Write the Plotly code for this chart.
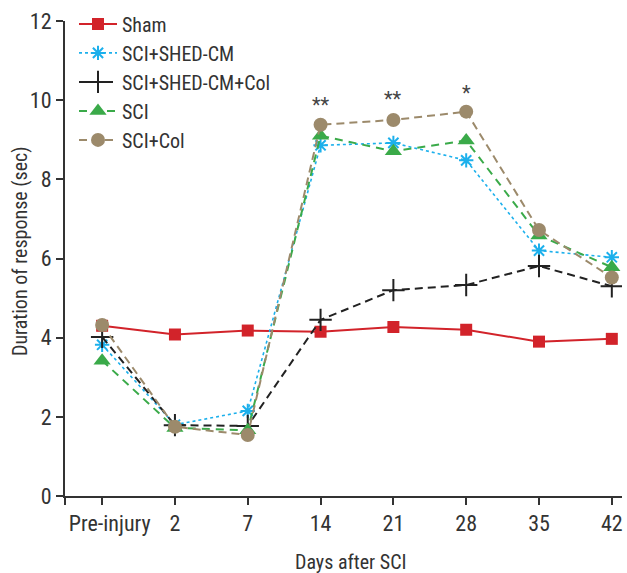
import plotly.graph_objects as go

days = ["Pre-injury", "2", "7", "14", "21", "28", "35", "42"]
sham = [4.30, 4.08, 4.18, 4.15, 4.27, 4.20, 3.90, 3.97]
sci_shed = [3.82, 1.80, 2.15, 8.86, 8.92, 8.48, 6.20, 6.03]
sci_shed_col = [4.02, 1.79, 1.77, 4.45, 5.20, 5.33, 5.81, 5.30]
sci = [3.42, 1.72, 1.66, 9.10, 8.71, 8.98, 6.58, 5.78]
sci_col = [4.32, 1.75, 1.54, 9.38, 9.50, 9.71, 6.72, 5.52]
sig_days = ["14", "21", "28"]
sig_marks = ["**", "**", "*"]
sig_y = [9.97, 10.14, 10.27]
y_ticks = [0, 2, 4, 6, 8, 10, 12]
x_title = "Days after SCI"
y_title = "Duration of response (sec)"

FONT = "Roboto Condensed, Roboto, sans-serif"
W, H = 627, 573
ML, MR, MT, MB = 65, 5, 21, 77
xi = list(range(len(days)))
x_start = -0.51
x_end = 7.14
tick_text = [""] + ["\u00a0\u00a0\u00a0" + days[0]] + days[1:]

fig = go.Figure()

series = [
    ("Sham", sham, "#d2232a", "solid", "square", 12, 2),
    ("SCI+SHED-CM", sci_shed, "#1cb0ec", "dot", "asterisk-open", 12, 1.6),
    ("SCI+SHED-CM+Col", sci_shed_col, "#222222", "8px,5px", "cross-thin-open", 16, 2),
    ("SCI", sci, "#3aaa49", "8px,6px", "triangle-up", 15, 2),
    ("SCI+Col", sci_col, "#9c8a6b", "8px,5px", "circle", 14, 2),
]
for name, vals, col, dash, sym, size, lw in series:
    if sym.endswith("open"):
        marker = dict(symbol=sym, size=size, color=col, line=dict(color=col, width=2))
    else:
        marker = dict(symbol=sym, size=size, color=col, line=dict(width=0))
    fig.add_trace(go.Scatter(
        x=xi, y=vals, name=name, mode="lines+markers",
        line=dict(color=col, width=lw, dash=dash),
        marker=marker,
    ))

for d, m, yv in zip(sig_days, sig_marks, sig_y):
    fig.add_annotation(x=days.index(d), y=yv, text=m, showarrow=False, yshift=-4,
                       font=dict(family=FONT, size=20, color="#444444"))

pw = W - ML - MR
ph = H - MT - MB
# axis titles as annotations for exact placement
fig.add_annotation(xref="paper", yref="paper", x=(350 - ML) / pw, y=-(562 - (H - MB)) / ph,
                   text=x_title, showarrow=False, xanchor="center", yanchor="middle",
                   font=dict(family=FONT, size=20, color="#333333"))
fig.add_annotation(xref="paper", yref="paper", x=-(ML - 20) / pw, y=(H - MB - 251) / ph,
                   text=y_title, textangle=-90, showarrow=False, xanchor="center", yanchor="middle",
                   font=dict(family=FONT, size=20, color="#333333"))

fig.update_layout(
    width=W, height=H,
    margin=dict(l=ML, r=MR, t=MT, b=MB, autoexpand=False),
    paper_bgcolor="white", plot_bgcolor="white",
    font=dict(family=FONT, size=22, color="#333333"),
    showlegend=True,
    legend=dict(x=(74 - ML) / pw, y=1 + (MT + 22.6 - 27) / ph,
                xanchor="left", yanchor="top",
                bgcolor="rgba(0,0,0,0)", font=dict(size=20, color="#333333"),
                tracegroupgap=0, itemwidth=38),
    xaxis=dict(
        range=[x_start, x_end], automargin=False,
        tickmode="array", tickvals=[x_start] + xi, ticktext=tick_text,
        showline=True, linecolor="#333333", linewidth=2,
        ticks="outside", ticklen=7, tickwidth=2, tickcolor="#333333",
        showgrid=False, zeroline=False,
    ),
    yaxis=dict(
        range=[0, 12], tickvals=y_ticks, automargin=False,
        showline=True, linecolor="#333333", linewidth=2,
        ticks="outside", ticklen=7, tickwidth=2, tickcolor="#333333",
        showgrid=False, zeroline=False,
    ),
)

fig.write_html("out.html", config={"displayModeBar": False},
               post_script="document.body.style.margin='0';document.body.style.padding='0';")
